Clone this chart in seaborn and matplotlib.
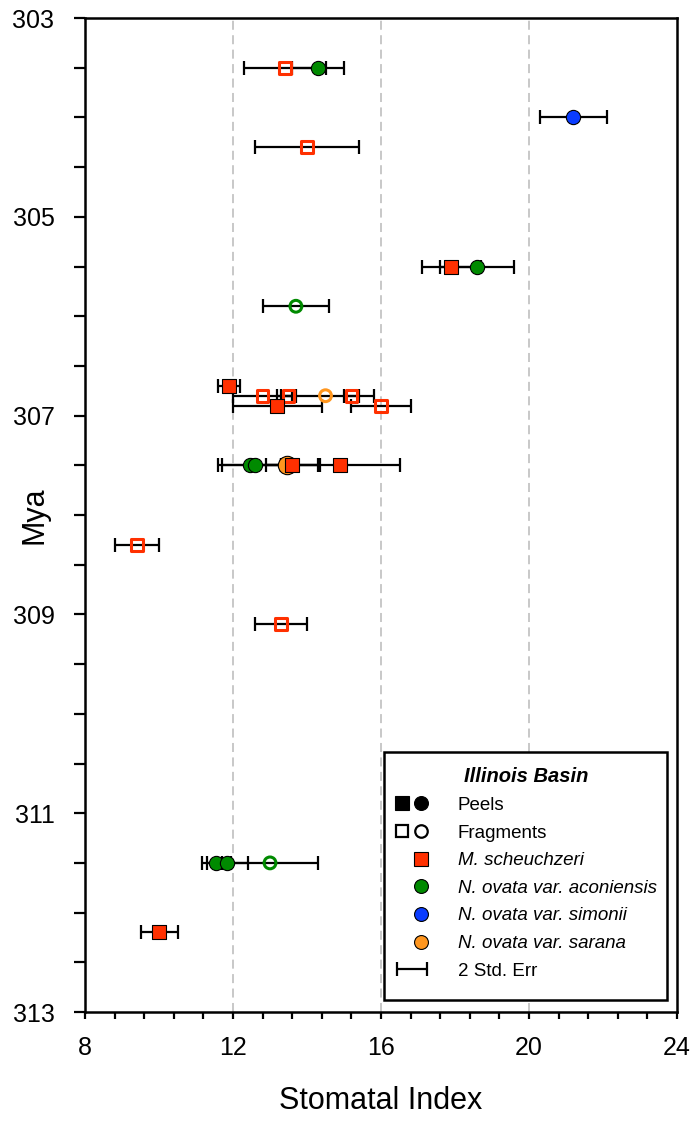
import numpy as np
import pandas as pd
import matplotlib
matplotlib.use("Agg")
import matplotlib.pyplot as plt
from matplotlib.lines import Line2D
from matplotlib.path import Path
from matplotlib.container import ErrorbarContainer
from matplotlib.legend_handler import HandlerTuple, HandlerErrorbar
from matplotlib.ticker import MultipleLocator
import seaborn as sns

# ---- data: one entry per mean stomatal index value ----
mya = [303.5, 303.5, 304.0, 304.3, 305.5, 305.5, 305.9, 306.7, 306.8, 306.8,
       306.8, 306.8, 306.9, 306.9, 307.5, 307.5, 307.5, 307.5, 307.5, 308.3,
       309.1, 311.5, 311.5, 311.5, 312.2]
stomatal_index = [13.4, 14.3, 21.2, 14.0, 17.9, 18.6, 13.7, 11.9, 12.8, 13.5,
                  14.5, 15.2, 13.2, 16.0, 12.45, 12.6, 13.45, 13.6, 14.9, 9.4,
                  13.3, 11.55, 11.85, 13.0, 10.0]
two_std_err = [1.1, 0.7, 0.9, 1.4, 0.8, 1.0, 0.9, 0.3, 0.8, 0.2,
               1.3, 0.2, 1.2, 0.8, 0.85, 0.9, 0.9, 0.7, 1.6, 0.6,
               0.7, 0.4, 0.55, 1.3, 0.5]
species = ["M", "A", "S", "M", "M", "A", "A", "M", "M", "M",
           "R", "M", "M", "M", "A", "A", "R", "M", "M", "M",
           "M", "A", "A", "A", "M"]
material = ["F", "P", "P", "F", "P", "P", "F", "P", "F", "F",
            "F", "F", "P", "F", "P", "P", "P", "P", "P", "F",
            "F", "P", "P", "F", "P"]

species_labels = {
    "M": "M. scheuchzeri",
    "A": "N. ovata var. aconiensis",
    "S": "N. ovata var. simonii",
    "R": "N. ovata var. sarana",
}
species_colors = {"M": "#FF3000", "A": "#008A00", "S": "#0A3CFF", "R": "#FF961E"}
species_markers = {"M": "s", "A": "o", "S": "o", "R": "o"}

df = pd.DataFrame({
    "mya": mya, "si": stomatal_index, "err": two_std_err,
    "species": species, "material": material,
})

# ---- figure ----
sns.set_style("ticks")
plt.rcParams["font.family"] = ["Liberation Sans", "DejaVu Sans"]
plt.rcParams["text.color"] = "black"
plt.rcParams["axes.labelcolor"] = "black"
plt.rcParams["xtick.color"] = "black"
plt.rcParams["ytick.color"] = "black"

fig = plt.figure(figsize=(6.92, 11.24), dpi=100)
ax = fig.add_axes([85 / 692, 1 - 1012 / 1124, 592 / 692, 994 / 1124])

ax.set_xlim(8, 24)
ax.set_ylim(313, 303)

# vertical reference lines
for xv in (12, 16, 20):
    ax.axvline(xv, color="#c4c4c4", lw=1.3, ls=(0, (5, 3)), zorder=0)

# error bars (2 standard errors)
eb = ax.errorbar(df["si"], df["mya"], xerr=df["err"], fmt="none",
                 ecolor="black", elinewidth=1.6, capsize=5, capthick=1.6,
                 zorder=2)

# fragments: open symbols
for code in ["M", "A", "R"]:
    sub = df[(df["material"] == "F") & (df["species"] == code)]
    if sub.empty:
        continue
    sns.scatterplot(data=sub, x="si", y="mya", ax=ax, marker=species_markers[code],
                    s=72, color=species_colors[code], facecolor="none",
                    edgecolor=species_colors[code], linewidth=2.2,
                    legend=False, zorder=3)

# peels: filled symbols with a thin black edge
for code in ["A", "S", "R", "M"]:
    sub = df[(df["material"] == "P") & (df["species"] == code)]
    if sub.empty:
        continue
    size = 175 if code == "R" else 105
    sns.scatterplot(data=sub, x="si", y="mya", ax=ax, marker=species_markers[code],
                    s=size, color=species_colors[code],
                    edgecolor="black", linewidth=0.8,
                    legend=False, zorder=4)

# axes styling
ax.set_xticks([8, 12, 16, 20, 24])
ax.xaxis.set_minor_locator(MultipleLocator(0.8))
ax.set_yticks([303, 305, 307, 309, 311, 313])
ax.yaxis.set_minor_locator(MultipleLocator(0.5))
ax.tick_params(axis="both", which="both", direction="out", width=1.6,
               color="black", labelcolor="black", labelsize=18)
ax.tick_params(axis="y", which="both", length=8, pad=14)
ax.tick_params(axis="x", which="both", length=5, pad=12)
for sp in ax.spines.values():
    sp.set_visible(True)
    sp.set_linewidth(1.8)
    sp.set_color("black")

ax.set_xlabel("Stomatal Index", fontsize=22, labelpad=19)
ax.set_ylabel("Mya", fontsize=22)
ax.yaxis.set_label_coords(-0.06, 0.5)

# ---- legend ----
blank = Line2D([], [], linestyle="none", marker="None")


def mk(marker, fc, ec="black", ms=10, mew=0.8):
    return Line2D([], [], linestyle="none", marker=marker, markersize=ms,
                  markerfacecolor=fc, markeredgecolor=ec, markeredgewidth=mew)


handles = [
    (mk("s", "black"), mk("o", "black")),
    (mk("s", "none", ms=9, mew=1.6), mk("o", "none", ms=9, mew=1.6)),
    (blank, mk("s", species_colors["M"])),
    (blank, mk("o", species_colors["A"])),
    (blank, mk("o", species_colors["S"])),
    (blank, mk("o", species_colors["R"])),
    eb,
]
labels = ["Peels", "Fragments", species_labels["M"], species_labels["A"],
          species_labels["S"], species_labels["R"], "2 Std. Err"]

# frame with extra room above and below the entries
EXTRA_TOP = 5.0
EXTRA_BOTTOM = 10.0


def tall_box(x0, y0, width, height, mutation_size):
    return Path([(x0, y0 - EXTRA_BOTTOM), (x0 + width, y0 - EXTRA_BOTTOM),
                 (x0 + width, y0 + height + EXTRA_TOP), (x0, y0 + height + EXTRA_TOP),
                 (x0, y0 - EXTRA_BOTTOM)], closed=True)


leg = ax.legend(handles, labels, loc="lower right",
                bbox_to_anchor=(0.983, (1012 - 990) / 994), bbox_transform=ax.transAxes,
                borderaxespad=0,
                handler_map={tuple: HandlerTuple(ndivide=None, pad=0.25),
                             ErrorbarContainer: HandlerErrorbar(xerr_size=0.8)},
                title="Illinois Basin",
                title_fontproperties={"weight": "bold", "style": "italic", "size": 14.5},
                fontsize=13.5, frameon=True, fancybox=False, shadow=False,
                edgecolor="black", framealpha=1, handlelength=1.8,
                handletextpad=1.55, labelspacing=0.56, borderpad=0.55)
leg.get_frame().set_linewidth(1.8)
leg.get_frame().set_boxstyle(tall_box)
for t in leg.get_texts()[2:6]:
    t.set_style("italic")

fig.savefig("out.png", dpi=100)
